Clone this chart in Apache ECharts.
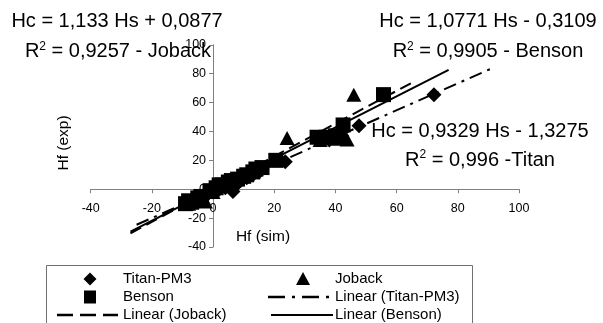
<!DOCTYPE html>
<html><head><meta charset="utf-8">
<script src="https://cdn.jsdelivr.net/npm/echarts@6/dist/echarts.min.js"></script>
<style>html,body{margin:0;padding:0;background:#fff}#c{width:603px;height:323px}</style>
</head><body><div id="c"></div>
<script>
// Axis ranges / ticks
const xMin = -40, xMax = 100, xStep = 20;
const yMin = -40, yMax = 100, yStep = 20;

// Data points [Hf(sim), Hf(exp)]
const titanPM3 = [[-7,-9],[-4,-6],[-2,-4],[0,-2],[2,0],[4,1],[6.5,-1.5],[8,4],[9,6],[11,8],[13,10],[15,12],[16,14],[23.6,19],[38,34],[42,37],[47.7,44],[72.2,65.5]];
const joback   = [[-8,-10],[-4,-7],[-2.5,-8.5],[0,-2],[5,4],[10,9],[24.2,35.5],[35,34],[40,35],[43.8,34.5],[46,65.5]];
const benson   = [[-9,-10],[-8,-8],[-7,-9],[-5,-6],[-4,-5],[-1,-1],[1,1],[2,3],[3,3],[5,5],[6,6],[8,7],[10,9],[11,10],[13,12],[14,14],[16,15],[20.5,20],[34,36],[37,36],[40,37],[42.5,44.5],[55.7,65.5]];

// Trend line end points
const titanFit  = [[-25,-24.6],[92,84.5]];
const jobackFit = [[-27,-30.5],[66,74.9]];
const bensonFit = [[-27,-29.4],[77,82.6]];

// Texts
const eqJoback = ['Hc = 1,133 Hs + 0,0877', ' = 0,9257 - Joback'];
const eqBenson = ['Hc = 1,0771 Hs - 0,3109', ' = 0,9905 - Benson'];
const eqTitan  = ['Hc = 0,9329 Hs - 1,3275', ' = 0,996 -Titan'];
const xName = 'Hf (sim)', yName = 'Hf (exp)';
const legendNames = ['Titan-PM3','Joback','Benson','Linear (Titan-PM3)','Linear (Joback)','Linear (Benson)'];

const FONT = '"Liberation Sans", Arial, sans-serif';
const W = 603, H = 323;
const grid = {left:90.7, right:84, top:44.8, bottom:76};
const gridW = W - grid.left - grid.right, gridH = H - grid.top - grid.bottom;
// axes cross at zero: shift each axis from the grid edge to the zero line
const xAxisOffset = -(0 - yMin) / (yMax - yMin) * gridH;
const yAxisOffset = -(0 - xMin) / (xMax - xMin) * gridW;

const chart = echarts.init(document.getElementById('c'), null, {renderer:'canvas'});

function r2Text(cx, cy, rest){
  return {type:'text', x:cx, y:cy, style:{
    text:'{a|R}{s|2}{a|'+rest+'}',
    align:'center', verticalAlign:'middle',
    rich:{a:{fontSize:20, fontFamily:FONT, fill:'#000', lineHeight:22},
          s:{fontSize:12, fontFamily:FONT, fill:'#000', verticalAlign:'top', lineHeight:22, padding:[0,0,10,0]}}
  }};
}
function plain(cx, cy, t, size, rot){
  const o = {type:'text', x:cx, y:cy, style:{text:t, font:size+'px '+FONT, fill:'#000', align:'center', verticalAlign:'middle'}};
  if (rot) o.rotation = rot;
  return o;
}
function ltext(x, y, t){
  return {type:'text', x:x, y:y, z:11, style:{text:t, font:'15px '+FONT, fill:'#000', align:'left', verticalAlign:'middle'}};
}

const graphic = [
  plain(117, 21.7, eqJoback[0], 20), r2Text(118, 51.7, eqJoback[1]),
  plain(488, 21.7, eqBenson[0], 20), r2Text(488, 51.7, eqBenson[1]),
  plain(480, 131.7, eqTitan[0], 20), r2Text(480, 160, eqTitan[1]),
  plain(64, 143, yName, 15.5, Math.PI/2),
  plain(263, 237, xName, 15.5),
  // legend box
  {type:'rect', shape:{x:46.5, y:265.5, width:426, height:70}, style:{fill:'#fff', stroke:'#707070', lineWidth:1}, z:10},
  {type:'polygon', shape:{points:[[90,272.5],[96.5,279],[90,285.5],[83.5,279]]}, style:{fill:'#000'}, z:11},
  {type:'polygon', shape:{points:[[303,272],[310,285],[296,285]]}, style:{fill:'#000'}, z:11},
  {type:'rect', shape:{x:84, y:290.5, width:12, height:13}, style:{fill:'#000'}, z:11},
  {type:'line', shape:{x1:268, y1:297, x2:333, y2:297}, style:{stroke:'#000', lineWidth:2.5, lineDash:[17,7,3,7]}, z:11},
  {type:'line', shape:{x1:57, y1:315, x2:118, y2:315}, style:{stroke:'#000', lineWidth:2.5, lineDash:[16,7]}, z:11},
  {type:'line', shape:{x1:271, y1:315, x2:333, y2:315}, style:{stroke:'#000', lineWidth:2}, z:11},
  ltext(123, 279, legendNames[0]),
  ltext(335, 279, legendNames[1]),
  ltext(123, 297, legendNames[2]),
  ltext(335, 297, legendNames[3]),
  ltext(123, 315, legendNames[4]),
  ltext(335, 315, legendNames[5])
];

const axisCommon = {
  type:'value', splitLine:{show:false},
  axisLine:{onZero:false, lineStyle:{color:'#808080', width:1}},
  axisTick:{show:true, length:4, lineStyle:{color:'#808080'}},
  axisLabel:{color:'#000', fontSize:12.5, fontFamily:FONT}
};
const mark = {color:'#000', opacity:1};

chart.setOption({
  animation:false,
  backgroundColor:'#fff',
  grid:Object.assign({containLabel:false}, grid),
  xAxis:Object.assign({}, axisCommon, {min:xMin, max:xMax, interval:xStep, position:'bottom', offset:xAxisOffset,
    axisLabel:Object.assign({}, axisCommon.axisLabel, {margin:13})}),
  yAxis:Object.assign({}, axisCommon, {min:yMin, max:yMax, interval:yStep, position:'left', offset:yAxisOffset,
    axisLabel:Object.assign({}, axisCommon.axisLabel, {margin:7})}),
  series:[
    {name:legendNames[0], type:'scatter', data:titanPM3, symbol:'diamond', symbolSize:[15,15], itemStyle:mark, z:2},
    {name:legendNames[1], type:'scatter', data:joback, symbol:'triangle', symbolSize:[15,14], itemStyle:mark, z:2},
    {name:legendNames[2], type:'scatter', data:benson, symbol:'rect', symbolSize:[15,15], itemStyle:mark, z:2},
    {name:legendNames[3], type:'line', data:titanFit, symbol:'none', lineStyle:{color:'#000', width:2, type:[13,6,3,6]}, z:3},
    {name:legendNames[4], type:'line', data:jobackFit, symbol:'none', lineStyle:{color:'#000', width:2, type:[12,6]}, z:3},
    {name:legendNames[5], type:'line', data:bensonFit, symbol:'none', lineStyle:{color:'#000', width:2}, z:3}
  ],
  graphic:graphic
});
</script></body></html>
